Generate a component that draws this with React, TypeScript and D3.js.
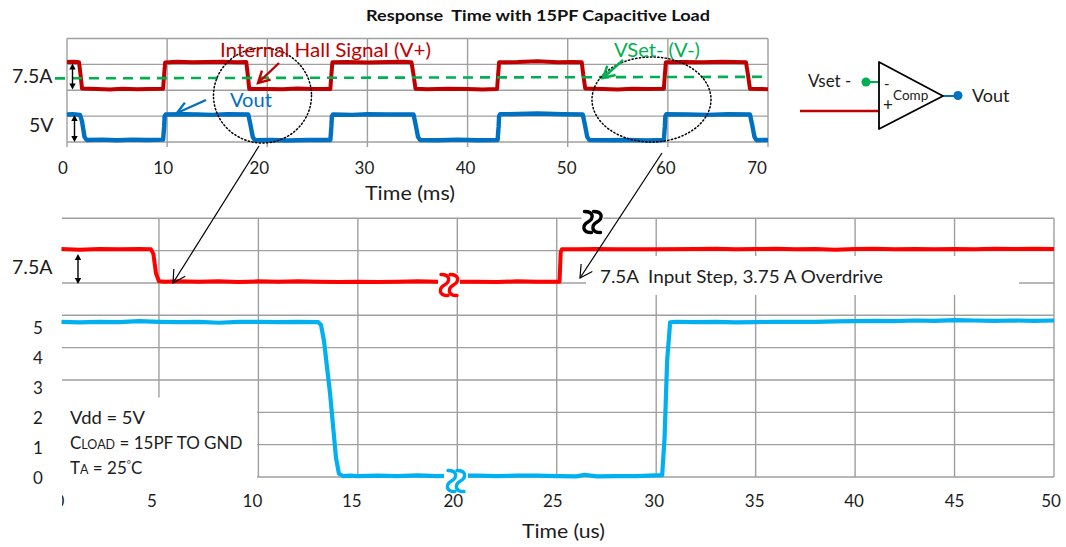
import React from "react";
import * as d3 from "d3";

// ---- top panel data: time in ms, level in grid units ----
const hallT = [0, 0.7, 1.2, 1.35, 1.5, 3, 4.3, 5.5, 7, 8.2, 9.6, 9.7, 9.8, 11, 12.5, 14, 15.5, 17, 17.9, 18.05, 18.2, 20, 21.5, 23, 24.5, 26.3, 26.4, 26.5, 28, 30, 32, 33.5, 34.4, 34.6, 34.8, 36, 38, 40, 41.5, 42.95, 43.05, 43.15, 45, 47, 49, 50.5, 51.4, 51.55, 51.75, 53.5, 55, 56.5, 58, 59.6, 59.7, 59.8, 61.5, 63.5, 65.5, 67.8, 68, 68.2, 69, 70];
const hallV = [3.09, 3.1, 3.08, 2.6, 2.07, 2.05, 2.03, 2.06, 2.04, 2.05, 2.06, 2.6, 3.07, 3.1, 3.08, 3.09, 3.1, 3.08, 3.09, 2.6, 2.05, 2.05, 2.04, 2.07, 2.05, 2.05, 2.6, 3.08, 3.09, 3.07, 3.09, 3.1, 3.08, 2.6, 2.06, 2.04, 2.06, 2.05, 2.03, 2.05, 2.6, 3.08, 3.09, 3.12, 3.08, 3.09, 3.08, 2.6, 2.07, 2.05, 2.03, 2.06, 2.05, 2.06, 2.6, 3.08, 3.09, 3.08, 3.1, 3.08, 2.6, 2.06, 2.05, 2.04];
const voutT = [0, 0.6, 1.3, 1.5, 1.75, 1.95, 3.5, 5, 6.5, 8, 9.6, 9.7, 9.75, 9.85, 11.5, 13, 14.5, 16, 18.1, 18.3, 18.55, 18.75, 20.5, 22, 24, 26.3, 26.4, 26.45, 26.55, 28.5, 30, 32, 34.6, 34.8, 35.05, 35.25, 37, 39, 41, 43, 43.1, 43.15, 43.25, 45, 47, 49.5, 51.5, 51.7, 51.95, 52.15, 54, 56, 58, 59.6, 59.7, 59.75, 59.85, 62, 64, 66, 68.2, 68.4, 68.65, 68.85, 70];
const voutV = [1.06, 1.07, 1.05, 0.8, 0.2, 0.08, 0.09, 0.07, 0.09, 0.08, 0.09, 0.6, 1.0, 1.06, 1.07, 1.06, 1.05, 1.07, 1.06, 0.7, 0.2, 0.07, 0.08, 0.06, 0.08, 0.08, 0.6, 1.0, 1.06, 1.05, 1.07, 1.06, 1.06, 0.7, 0.2, 0.08, 0.07, 0.09, 0.07, 0.08, 0.6, 1.0, 1.07, 1.08, 1.1, 1.07, 1.06, 0.7, 0.2, 0.08, 0.07, 0.08, 0.06, 0.08, 0.6, 1.0, 1.07, 1.06, 1.05, 1.07, 1.06, 0.7, 0.2, 0.07, 0.08];
const vsetT = [-1.2, 70];
const vsetV = [2.46, 2.52];

// ---- bottom panel data: time in us, level in grid units ----
const inputT = [0.1, 1, 2, 3, 4, 4.6, 4.72, 4.85, 5.0, 5.3, 6, 7, 8, 9, 10, 11, 12, 13, 14, 15, 16, 17, 18, 19, 20, 21, 22, 23, 24, 25.14, 25.17, 25.2, 25.26, 26, 27, 28, 30, 32, 33, 34, 35, 36, 37, 38, 39, 40, 41, 42, 43, 44, 45, 46, 47, 48, 49, 50];
const inputV = [7.05, 7.03, 7.05, 7.04, 7.05, 7.04, 6.9, 6.3, 6.05, 6.04, 6.05, 6.04, 6.05, 6.03, 6.05, 6.04, 6.05, 6.04, 6.03, 6.04, 6.03, 6.04, 6.05, 6.04, 6.04, 6.04, 6.03, 6.05, 6.04, 6.04, 6.5, 6.95, 7.04, 7.04, 7.05, 7.04, 7.04, 7.05, 7.06, 7.04, 7.05, 7.06, 7.04, 7.05, 7.03, 7.05, 7.06, 7.04, 7.05, 7.04, 7.05, 7.04, 7.06, 7.05, 7.06, 7.05];
const outputT = [0.1, 1, 2, 3, 4, 5, 6, 7, 8, 9, 10, 11, 12, 13, 13.15, 13.3, 13.6, 13.9, 14.05, 14.25, 14.6, 15, 16, 17, 18, 19, 20, 21, 22, 23, 24, 25, 26, 26.4, 27, 28, 29, 30, 30.3, 30.42, 30.55, 30.7, 31, 32, 33, 34, 35, 36, 37, 38, 39, 40, 41, 42, 43, 44, 45, 46, 47, 48, 49, 50];
const outputV = [4.8, 4.78, 4.8, 4.79, 4.82, 4.8, 4.79, 4.8, 4.77, 4.8, 4.8, 4.79, 4.8, 4.79, 4.7, 4.2, 2.6, 0.6, 0.1, 0.03, 0.04, 0.03, 0.04, 0.03, 0.05, 0.03, 0.04, 0.04, 0.03, 0.04, 0.04, 0.03, 0.02, 0.07, 0.02, 0.03, 0.03, 0.05, 0.06, 1.2, 3.6, 4.78, 4.8, 4.79, 4.8, 4.78, 4.79, 4.8, 4.8, 4.8, 4.81, 4.82, 4.83, 4.82, 4.84, 4.83, 4.85, 4.84, 4.83, 4.84, 4.83, 4.84];

const msTicks = [0, 10, 20, 30, 40, 50, 60, 70];
const msTickShift = [-4, -4, -8, -3, -2, -1, -2, -11];
const usTickShift = [0, -7, -6, -6, -4, -4, -2, -1, -1, 0, -3];
const voltLabels = [0, 1, 2, 3, 4, 5];

const FONT = "Lato, 'Open Sans', sans-serif";
const INK = "#1c1c1c";
const GRID = "#9f9f9f";
const DARK_RED = "#c00000";
const DARK_BLUE = "#0070c0";
const GREEN = "#00b050";
const RED = "#ff0000";
const CYAN = "#00b0f0";

const xMs = d3.scaleLinear().domain([0, 70]).range([67, 768]);
const yTop = d3.scaleLinear().domain([0, 4]).range([142, 38.5]);
const xUs = d3.scaleLinear().domain([0, 50]).range([59.5, 1054]);
const yBot = d3.scaleLinear().domain([0, 8]).range([477, 218.3]);
const yVoltLabel = d3.scaleLinear().domain([0, 5]).range([484, 334]);

const trace = (xs: number[], ys: number[], x: any, y: any) =>
  d3.line<number>().x((d) => x(d)).y((_, i) => y(ys[i]))(xs) as string;

function Break({ cx, cy, color, w = 22 }: { cx: number; cy: number; color: string; w?: number }) {
  const h = 21;
  const s = (x: number) =>
    `M${x - 3.5} ${cy - h / 2} C${x + 6} ${cy - h / 2} ${x + 6} ${cy - h / 6} ${x} ${cy} C${x - 6} ${cy + h / 6} ${x - 6} ${cy + h / 2} ${x + 3.5} ${cy + h / 2}`;
  return (
    <g>
      <rect x={cx - w / 2} y={cy - 12} width={w} height={24} fill="#fff" />
      <path d={s(cx - 4.5)} fill="none" stroke={color} strokeWidth={3.4} strokeLinecap="round" />
      <path d={s(cx + 4.5)} fill="none" stroke={color} strokeWidth={3.4} strokeLinecap="round" />
    </g>
  );
}

function DoubleArrow({ x, y1, y2 }: { x: number; y1: number; y2: number }) {
  return (
    <g>
      <line x1={x} x2={x} y1={y1 + 3} y2={y2 - 3} stroke="#000" strokeWidth={1.4} />
      <path d={`M${x} ${y1} l-3.2 6 h6.4 z M${x} ${y2} l-3.2 -6 h6.4 z`} fill="#000" />
    </g>
  );
}

function OpenArrow({ x1, y1, x2, y2, color, width, size }: { x1: number; y1: number; x2: number; y2: number; color: string; width: number; size: number }) {
  const a = Math.atan2(y1 - y2, x1 - x2);
  const p = (da: number) => `${x2 + size * Math.cos(a + da)} ${y2 + size * Math.sin(a + da)}`;
  return (
    <g fill="none" stroke={color} strokeWidth={width}>
      <line x1={x1} y1={y1} x2={x2} y2={y2} />
      <path d={`M${p(0.5)} L${x2} ${y2} L${p(-0.5)}`} />
    </g>
  );
}

export default function App() {
  const T = (p: any) => <text fontFamily={FONT} fill={INK} {...p} />;
  return (
    <svg width={1066} height={547} style={{ position: "absolute", left: 0, top: 0, display: "block", background: "#fff" }}>
      <defs>
        <clipPath id="usLabels"><rect x={62} y={485} width={1004} height={30} /></clipPath>
        <clipPath id="msPlot"><rect x={67} y={30} width={702} height={120} /></clipPath>
      </defs>

      <T x={366} y={21} fontSize={15.5} fontWeight={700} fill="#111" textLength={344} lengthAdjust="spacingAndGlyphs" style={{ whiteSpace: "pre" }}>Response  Time with 15PF Capacitive Load</T>

      {/* top panel grid */}
      <g stroke={GRID} strokeWidth={1.4}>
        {yTop.ticks(4).map((v) => <line key={v} x1={67} x2={768} y1={yTop(v)} y2={yTop(v)} />)}
        {msTicks.map((v) => <line key={v} x1={xMs(v)} x2={xMs(v)} y1={38.5} y2={147} />)}
      </g>
      <g clipPath="url(#msPlot)" fill="none" strokeLinejoin="round">
        <path d={trace(hallT, hallV, xMs, yTop)} stroke={DARK_RED} strokeWidth={4} />
        <path d={trace(voutT, voutV, xMs, yTop)} stroke={DARK_BLUE} strokeWidth={4.4} />
      </g>
      <path d={trace(vsetT, vsetV, xMs, yTop)} fill="none" stroke={GREEN} strokeWidth={2.6} strokeDasharray="10 7" />
      {msTicks.map((v, i) => (
        <T key={v} x={xMs(v) + msTickShift[i]} y={174} fontSize={17} textAnchor="middle">{v}</T>
      ))}
      <T x={365} y={200} fontSize={20} textLength={90} lengthAdjust="spacingAndGlyphs">Time (ms)</T>
      <T x={12} y={83} fontSize={19.5}>7.5A</T>
      <T x={29} y={132} fontSize={19.5}>5V</T>
      <DoubleArrow x={72.5} y1={63.5} y2={89.5} />
      <DoubleArrow x={74.5} y1={115} y2={142} />

      <ellipse cx={262.5} cy={95.5} rx={49} ry={47.5} fill="none" stroke="#000" strokeWidth={1.5} strokeDasharray="1.3 2.4" strokeLinecap="round" />
      <ellipse cx={651.5} cy={99.5} rx={59.5} ry={42.5} fill="none" stroke="#000" strokeWidth={1.5} strokeDasharray="1.3 2.4" strokeLinecap="round" />

      <T x={220} y={57} fontSize={19.5} fill={DARK_RED} textLength={211} lengthAdjust="spacingAndGlyphs">Internal Hall Signal (V+)</T>
      <T x={230} y={107} fontSize={19.5} fill={DARK_BLUE} textLength={42} lengthAdjust="spacingAndGlyphs">Vout</T>
      <T x={614} y={57} fontSize={19.5} fill={GREEN} textLength={86} lengthAdjust="spacingAndGlyphs">VSet- (V-)</T>
      <OpenArrow x1={279} y1={63} x2={258} y2={83} color={DARK_RED} width={2.4} size={13} />
      <OpenArrow x1={206} y1={100} x2={177} y2={113} color={DARK_BLUE} width={2.4} size={13} />
      <OpenArrow x1={623} y1={60} x2={603} y2={78} color={GREEN} width={2.4} size={13} />

      {/* comparator */}
      <line x1={800} x2={879} y1={111} y2={111} stroke={DARK_RED} strokeWidth={2.4} />
      <line x1={866} x2={879} y1={82} y2={82} stroke={GREEN} strokeWidth={2} />
      <circle cx={866} cy={82} r={4.5} fill={GREEN} />
      <line x1={943} x2={958} y1={96} y2={96} stroke={DARK_BLUE} strokeWidth={2} />
      <circle cx={958} cy={95.5} r={4.5} fill={DARK_BLUE} />
      <path d="M879 62 L879 129 L943 96 Z" fill="#fff" stroke="#000" strokeWidth={1.8} strokeLinejoin="round" />
      <T x={808} y={87} fontSize={17}>Vset -</T>
      <T x={884} y={89} fontSize={15}>-</T>
      <T x={883} y={111} fontSize={17}>+</T>
      <T x={893} y={100} fontSize={13.5}>Comp</T>
      <T x={972} y={102} fontSize={18}>Vout</T>

      {/* bottom panel grid */}
      <g stroke={GRID} strokeWidth={1.4}>
        {yBot.ticks(8).map((v) => <line key={v} x1={62} x2={1054} y1={yBot(v)} y2={yBot(v)} />)}
        {xUs.ticks(10).filter((v) => v > 0).map((v) => <line key={v} x1={xUs(v)} x2={xUs(v)} y1={218.3} y2={477} />)}
      </g>
      <rect x={61} y={397.5} width={196} height={81} fill="#fff" />
      <rect x={586} y={256} width={433} height={39} fill="#fff" />

      <g fill="none" strokeLinejoin="round">
        <path d={trace(inputT, inputV, xUs, yBot)} stroke={RED} strokeWidth={4} />
        <path d={trace(outputT, outputV, xUs, yBot)} stroke={CYAN} strokeWidth={4.2} />
      </g>

      <Break cx={592.5} cy={222} color="#000" />
      <Break cx={449} cy={285} color={RED} />
      <Break cx={456} cy={481} color={CYAN} w={24} />

      <g clipPath="url(#usLabels)">
        {xUs.ticks(10).map((v, i) => (
          <T key={v} x={xUs(v) + usTickShift[i]} y={507} fontSize={17} textAnchor="middle">{v}</T>
        ))}
      </g>
      <T x={522} y={538} fontSize={20} textLength={83} lengthAdjust="spacingAndGlyphs">Time (us)</T>
      {voltLabels.map((v) => (
        <T key={v} x={38} y={yVoltLabel(v)} fontSize={17} textAnchor="middle">{v}</T>
      ))}
      <T x={12} y={274} fontSize={19.5}>7.5A</T>
      <DoubleArrow x={78} y1={254} y2={284} />

      <T x={70} y={424} fontSize={17} textLength={75} lengthAdjust="spacingAndGlyphs">Vdd = 5V</T>
      <T x={70} y={449} fontSize={17}>C<tspan fontSize={12.5}>LOAD</tspan> = 15PF TO GND</T>
      <T x={70} y={474} fontSize={17}>T<tspan fontSize={12.5}>A</tspan> = 25<tspan fontSize={10} dy={-6}>°</tspan><tspan dy={6}>C</tspan></T>
      <T x={600} y={283} fontSize={17.5} textLength={283} lengthAdjust="spacingAndGlyphs" style={{ whiteSpace: "pre" }}>7.5A  Input Step, 3.75 A Overdrive</T>

      <OpenArrow x1={259} y1={146} x2={173} y2={283} color="#000" width={1.2} size={14} />
      <OpenArrow x1={662} y1={153} x2={580} y2={278} color="#000" width={1.2} size={14} />
    </svg>
  );
}
